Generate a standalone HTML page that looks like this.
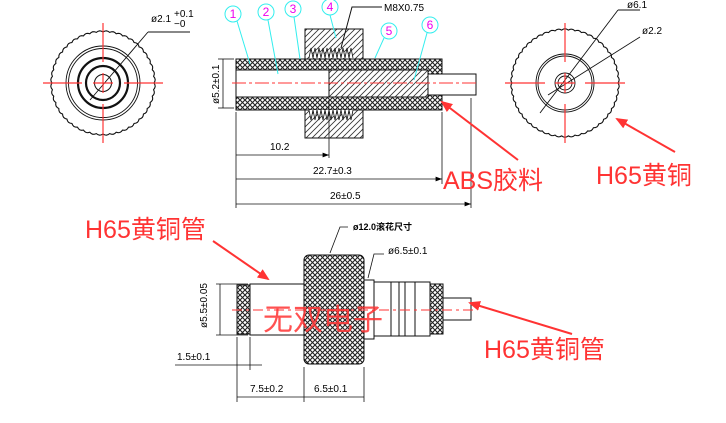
<!DOCTYPE html>
<html><head><meta charset="utf-8"><style>
html,body{margin:0;padding:0;background:#fff;width:726px;height:423px;overflow:hidden}
svg text{font-family:"Liberation Sans","Noto Sans CJK SC",sans-serif}
</style></head><body>
<svg width="726" height="423" viewBox="0 0 726 423" xmlns="http://www.w3.org/2000/svg">
<defs>
<pattern id="kn" width="5" height="5" patternUnits="userSpaceOnUse">
<rect width="5" height="5" fill="#fff"/>
<path d="M0 0L5 5M5 0L0 5" stroke="#222" stroke-width="1.1"/>
</pattern>
<pattern id="ht" width="6" height="6" patternUnits="userSpaceOnUse">
<rect width="6" height="6" fill="#fff"/>
<path d="M0 6L6 0M-1 1L1 -1M5 7L7 5" stroke="#333" stroke-width="0.8"/>
</pattern>
<marker id="ah" markerWidth="8" markerHeight="6" refX="8" refY="3" orient="auto"><path d="M0 0L8 3L0 6z" fill="#000"/></marker>
<marker id="ra" markerWidth="6" markerHeight="5" refX="5" refY="2.5" orient="auto"><path d="M0 0L6 2.5L0 5z" fill="#f33"/></marker>
</defs>

<g fill="none" stroke="#111">
<circle id="lcout" cx="103" cy="83" r="52" stroke-width="1.2"/>
<circle cx="103" cy="83" r="37" stroke-width="0.9"/>
<circle cx="103" cy="83" r="34.5" stroke-width="0.9"/>
<circle cx="103" cy="83" r="25" stroke-width="2.2"/>
<circle cx="103" cy="83" r="17" stroke-width="2.2"/>
<circle cx="103" cy="83" r="8.5" stroke-width="1"/>
<line x1="90" y1="100" x2="148" y2="32" stroke-width="0.9"/>
<polyline points="148,32 190,32" stroke-width="0.9"/>
</g>
<g stroke="#f33" stroke-width="1.2">
<line x1="43" y1="83" x2="82" y2="83"/><line x1="93" y1="83" x2="113" y2="83"/><line x1="124" y1="83" x2="163" y2="83"/>
<line x1="103" y1="23" x2="103" y2="62"/><line x1="103" y1="73" x2="103" y2="93"/><line x1="103" y1="104" x2="103" y2="143"/>
</g>
<text x="151" y="22" font-size="10">ø2.1</text>
<text x="174" y="17" font-size="10">+0.1</text>
<text x="174" y="27" font-size="10">−0</text>

<g fill="none" stroke="#111">
<circle id="rcout" cx="565" cy="83" r="54" stroke-width="1.2"/>
<circle cx="565" cy="83" r="29" stroke-width="0.9"/>
<circle cx="565" cy="83" r="27" stroke-width="0.9"/>
<circle cx="565" cy="83" r="10" stroke-width="0.9"/>
<circle cx="565" cy="83" r="7" stroke-width="0.9"/>
<line x1="540" y1="113" x2="618" y2="10" stroke-width="0.9"/>
<line x1="548" y1="95" x2="640" y2="37" stroke-width="0.9"/>
<line x1="618" y1="10" x2="640" y2="10" stroke-width="0.9"/>
</g>
<g stroke="#f33" stroke-width="1.2">
<line x1="505" y1="83" x2="545" y2="83"/><line x1="555" y1="83" x2="575" y2="83"/><line x1="585" y1="83" x2="625" y2="83"/>
<line x1="565" y1="23" x2="565" y2="62"/><line x1="565" y1="73" x2="565" y2="93"/><line x1="565" y1="104" x2="565" y2="143"/>
</g>
<text x="627" y="8" font-size="10">ø6.1</text>
<text x="642" y="34" font-size="10">ø2.2</text>

<rect x="305" y="29" width="58" height="109" fill="url(#ht)" stroke="#111"/>
<rect x="236" y="59" width="206" height="51" fill="url(#kn)" stroke="#111"/>
<rect x="236" y="70" width="93" height="27" fill="#fff" stroke="#111"/>
<rect x="329" y="70" width="99" height="27" fill="url(#ht)" stroke="#111"/>
<rect x="428" y="74" width="48" height="21" fill="#fff" stroke="#111"/>
<path d="M309 58 L311 48 L313 58 L315 48 L317 58 L319 48 L321 58 L323 48 L325 58 L327 48 L329 58 L331 48 L333 58 L335 48 L337 58 L339 48 L341 58 L343 48 L345 58 L347 48 L349 58 L351 48 L353 58" fill="#fff" stroke="#111" stroke-width="0.8"/>
<path d="M309 110 L311 120 L313 110 L315 120 L317 110 L319 120 L321 110 L323 120 L325 110 L327 120 L329 110 L331 120 L333 110 L335 120 L337 110 L339 120 L341 110 L343 120 L345 110 L347 120 L349 110 L351 120 L353 110" fill="#fff" stroke="#111" stroke-width="0.8"/>
<line x1="232" y1="83" x2="478" y2="83" stroke="#f33" stroke-dasharray="14 3 3 3"/>
<g fill="none" stroke="#3ee" stroke-width="1">
<circle cx="233" cy="14" r="8"/><circle cx="266" cy="12" r="8"/><circle cx="293" cy="9" r="8"/>
<circle cx="330" cy="7" r="8"/><circle cx="389" cy="31" r="8"/><circle cx="430" cy="25" r="8"/>
<line x1="237" y1="21" x2="250" y2="64"/><line x1="268" y1="20" x2="278" y2="74"/><line x1="294" y1="17" x2="300" y2="59"/>
<line x1="330" y1="15" x2="336" y2="38"/><line x1="384" y1="38" x2="375" y2="58"/><line x1="427" y1="33" x2="414" y2="80"/>
</g>
<g fill="#e0e" font-size="12" text-anchor="middle">
<text x="233" y="18">1</text><text x="266" y="16">2</text><text x="293" y="13">3</text>
<text x="330" y="11">4</text><text x="389" y="35">5</text><text x="430" y="29">6</text>
</g>
<polyline points="341,48 352,7 382,7" fill="none" stroke="#111"/>
<text x="384" y="11" font-size="10" font-family="Liberation Mono">M8X0.75</text>
<g stroke="#111" stroke-width="0.8" fill="none">
<line x1="236" y1="112" x2="236" y2="208"/><line x1="329" y1="100" x2="329" y2="158"/>
<line x1="442" y1="112" x2="442" y2="184"/><line x1="471" y1="98" x2="471" y2="208"/>
<line x1="236" y1="155" x2="329" y2="155" marker-end="url(#ah)"/>
<line x1="236" y1="179" x2="442" y2="179" marker-end="url(#ah)"/>
<line x1="236" y1="204" x2="471" y2="204" marker-end="url(#ah)"/>
<line x1="218" y1="59" x2="234" y2="59"/><line x1="218" y1="108" x2="234" y2="108"/>
<line x1="223" y1="59" x2="223" y2="108"/>
</g>
<text x="270" y="150" font-size="10">10.2</text>
<text x="313" y="174" font-size="10">22.7±0.3</text>
<text x="330" y="199" font-size="10">26±0.5</text>
<text transform="translate(219,104) rotate(-90)" font-size="10">ø5.2±0.1</text>

<rect x="237" y="285" width="13" height="49" fill="url(#kn)" stroke="#111"/>
<rect x="250" y="284" width="54" height="51" fill="#fff" stroke="#111"/>
<rect x="304" y="255" width="60" height="109" rx="5" fill="url(#kn)" stroke="#111"/>
<rect x="364" y="280" width="10" height="59" fill="#fff" stroke="#111"/>
<rect x="374" y="282" width="56" height="54" fill="#fff" stroke="#111"/>
<g stroke="#111"><line x1="391" y1="282" x2="391" y2="336"/><line x1="399" y1="282" x2="399" y2="336"/><line x1="405" y1="282" x2="405" y2="336"/><line x1="415" y1="282" x2="415" y2="336"/></g>
<rect x="430" y="284" width="13" height="50" fill="url(#kn)" stroke="#111"/>
<rect x="443" y="298" width="28" height="22" fill="#fff" stroke="#111"/>
<line x1="232" y1="310" x2="474" y2="310" stroke="#f33" stroke-dasharray="10 4 3 4"/>
<g stroke="#111" stroke-width="0.8" fill="none">
<line x1="216" y1="284" x2="248" y2="284"/><line x1="216" y1="335" x2="248" y2="335"/>
<line x1="220" y1="284" x2="220" y2="335"/>
<line x1="237" y1="337" x2="237" y2="402"/><line x1="250" y1="337" x2="250" y2="370"/>
<line x1="304" y1="367" x2="304" y2="402"/><line x1="364" y1="367" x2="364" y2="402"/>
<line x1="175" y1="365" x2="262" y2="365"/>
<line x1="237" y1="397" x2="364" y2="397"/>
<polyline points="330,253 340,227 348,227"/>
<polyline points="368,278 374,254 384,254"/>
</g>
<text x="207" y="328" font-size="10" transform="rotate(-90 207 328)">ø5.5±0.05</text>
<text x="177" y="360" font-size="10">1.5±0.1</text>
<text x="250" y="392" font-size="10">7.5±0.2</text>
<text x="314" y="392" font-size="10">6.5±0.1</text>
<text x="353" y="230" font-size="9" font-weight="bold">ø12.0滚花尺寸</text>
<text x="388" y="254" font-size="10">ø6.5±0.1</text>
<text x="263" y="330" font-size="30" fill="#f33" fill-opacity="0.85" font-family="Liberation Serif,Noto Serif CJK SC,serif">无双电子</text>

<g fill="#f33" font-size="25">
<text x="443" y="189">ABS胶料</text>
<text x="596" y="184">H65黄铜</text>
<text x="85" y="238">H65黄铜管</text>
<text x="484" y="358">H65黄铜管</text>
</g>
<g stroke="#f33" stroke-width="2" fill="none">
<line x1="518" y1="160" x2="442" y2="102" marker-end="url(#ra)"/>
<line x1="675" y1="152" x2="617" y2="119" marker-end="url(#ra)"/>
<line x1="213" y1="241" x2="268" y2="279" marker-end="url(#ra)"/>
<line x1="572" y1="334" x2="470" y2="303" marker-end="url(#ra)"/>
</g>
</svg>
<script>
function bump(id,cx,cy,r,n){var e=document.getElementById(id);var d='';for(var i=0;i<=n*4;i++){var a=i/(n*4)*Math.PI*2;var rr=r+1.3*Math.abs(Math.sin(i/(4)*Math.PI));var x=cx+rr*Math.cos(a),y=cy+rr*Math.sin(a);d+=(i?'L':'M')+x.toFixed(2)+' '+y.toFixed(2);}
var p=document.createElementNS('http://www.w3.org/2000/svg','path');p.setAttribute('d',d+'Z');p.setAttribute('fill','none');p.setAttribute('stroke','#111');p.setAttribute('stroke-width','1.1');e.parentNode.replaceChild(p,e);}
bump('lcout',103,83,51,48);bump('rcout',565,83,53,50);
</script>
</body></html>
